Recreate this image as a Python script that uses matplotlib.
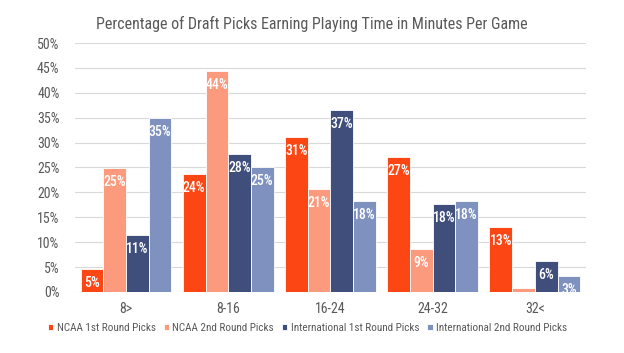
import numpy as np
import matplotlib
matplotlib.use("Agg")
import matplotlib.pyplot as plt
from matplotlib import font_manager

# fonte condensada (a primeira que existir)
names = {f.name for f in font_manager.fontManager.ttflist}
fam = next((n for n in ["Roboto Condensed", "Barlow Condensed", "Archivo Narrow"] if n in names),
           "DejaVu Sans")
plt.rcParams['font.family'] = [fam, 'DejaVu Sans']

categories = ["8>", "8-16", "16-24", "24-32", "32<"]
series = ["NCAA 1st Round Picks", "NCAA 2nd Round Picks",
          "International 1st Round Picks", "International 2nd Round Picks"]
ncaa_1st = [4.6, 23.6, 31.2, 27.1, 13.0]
ncaa_2nd = [24.9, 44.3, 20.7, 8.7, 0.7]
intl_1st = [11.4, 27.7, 36.6, 17.6, 6.3]
intl_2nd = [34.9, 25.0, 18.3, 18.3, 3.2]
values = [ncaa_1st, ncaa_2nd, intl_1st, intl_2nd]
colors = ["#FC4613", "#FB9A7C", "#3F4E7B", "#7F92BF"]

grey = "#595959"
fig = plt.figure(figsize=(6.24, 3.53), dpi=100)
ax = fig.add_axes([0.120, 0.173, 0.819, 0.705])

x = np.arange(len(categories))
w = 0.222
for i, (name, vals, c) in enumerate(zip(series, values, colors)):
    pos = x + (i - 1.5) * w
    ax.bar(pos, vals, w, color=c, edgecolor="white", linewidth=0.6, label=name, zorder=3)
    for p, v in zip(pos, vals):
        if v < 1:
            continue
        ax.text(p, v - 1.4, f"{round(v)}%", ha="center", va="top",
                color="white", fontsize=10, fontweight="medium", zorder=4)

ax.set_xlim(-0.5, 4.5)
ax.set_ylim(0, 50)
ax.set_yticks(np.arange(0, 51, 5))
ax.set_yticklabels([f"{t}%" for t in range(0, 51, 5)])
ax.set_xticks(x)
ax.set_xticklabels(categories)
ax.grid(axis="y", color="#d9d9d9", linewidth=0.8, zorder=0)
for s in ax.spines.values():
    s.set_visible(False)
ax.tick_params(length=0, colors=grey, labelsize=10)
ax.tick_params(axis="x", pad=7)
ax.tick_params(axis="y", pad=11)

fig.suptitle("Percentage of Draft Picks Earning Playing Time in Minutes Per Game",
             y=0.955, fontsize=11.5, color=grey)
ax.legend(loc="upper center", bbox_to_anchor=(0.455, -0.085), ncol=4, frameon=False,
          fontsize=8, labelcolor=grey, handlelength=0.5, handleheight=0.5,
          handletextpad=0.3, columnspacing=0.7)

plt.savefig("out.png", dpi=100)
